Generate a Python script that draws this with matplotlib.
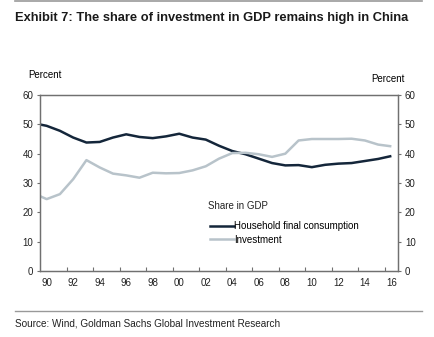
import matplotlib
matplotlib.use("Agg")
import matplotlib.pyplot as plt
from matplotlib.lines import Line2D
from matplotlib.ticker import FixedLocator, NullFormatter

# Annual shares of GDP (percent)
years = list(range(1989, 2017))
household_consumption = [50.4, 49.5, 47.8, 45.5, 43.8, 44.0, 45.5, 46.6, 45.7, 45.3,
                         45.9, 46.8, 45.5, 44.8, 42.7, 40.9, 39.8, 38.3, 36.8, 36.0,
                         36.1, 35.4, 36.2, 36.6, 36.8, 37.5, 38.2, 39.2]
investment = [26.5, 24.5, 26.2, 31.3, 37.8, 35.3, 33.2, 32.6, 31.8, 33.5,
              33.3, 33.4, 34.3, 35.7, 38.3, 40.2, 40.3, 39.8, 38.9, 40.0,
              44.5, 45.0, 45.0, 45.0, 45.1, 44.5, 43.1, 42.5]
label_years = list(range(1990, 2017, 2))
tick_labels = [f"{y % 100:02d}" for y in label_years]
y_ticks = [0, 10, 20, 30, 40, 50, 60]

title = "Exhibit 7: The share of investment in GDP remains high in China"
source = "Source: Wind, Goldman Sachs Global Investment Research"

SANS = ["Liberation Sans", "DejaVu Sans"]
DARK = "#14263a"
LIGHT = "#b8c3ca"
SPINE = "#707070"

fig = plt.figure(figsize=(4.35, 3.37), dpi=100)
ax = fig.add_axes([0.092, 0.196, 0.823, 0.522])

ax.plot(years, household_consumption, color=DARK, lw=1.8, solid_capstyle="butt")
ax.plot(years, investment, color=LIGHT, lw=1.8, solid_capstyle="butt")

ax.set_xlim(1989.5, 2016.5)
ax.set_ylim(0, 60)

# Labels sit on the years, tick marks between them
ax.xaxis.set_major_locator(FixedLocator([y + 1.5 for y in label_years[:-1]]))
ax.xaxis.set_major_formatter(NullFormatter())
ax.xaxis.set_minor_locator(FixedLocator(label_years))
ax.set_xticklabels(tick_labels, minor=True)
ax.tick_params(axis="x", which="major", direction="in", length=3, color=SPINE)
ax.tick_params(axis="x", which="minor", length=0, pad=5, labelsize=7, labelcolor="#222222")
for t in ax.get_xticklabels(minor=True):
    t.set_family(SANS)

ax.set_yticks(y_ticks)
ax.tick_params(axis="y", which="major", direction="out", length=2, color=SPINE,
               labelsize=7, labelcolor="#222222", pad=3)
for t in ax.get_yticklabels():
    t.set_family(SANS)

ax2 = ax.twinx()
ax2.set_ylim(0, 60)
ax2.set_yticks(y_ticks)
ax2.tick_params(axis="y", direction="out", length=2, color=SPINE,
                labelsize=7, labelcolor="#222222", pad=3)
for t in ax2.get_yticklabels():
    t.set_family(SANS)

for a in (ax, ax2):
    for s in a.spines.values():
        s.set_color(SPINE)
        s.set_linewidth(0.9)

# Key: heading plus two entries
ax.text(0.469, 0.369, "Share in GDP", transform=ax.transAxes, fontsize=7,
        family=SANS, ha="left", va="center", color="#222222")
handles = [Line2D([], [], color=DARK, lw=1.8), Line2D([], [], color=LIGHT, lw=1.8)]
leg = ax.legend(handles, ["Household final consumption", "Investment"],
                loc="upper left", bbox_to_anchor=(0.476, 0.282),
                frameon=False, handlelength=2.4, handletextpad=0.05,
                borderaxespad=0, borderpad=0, labelspacing=0.35,
                prop={"family": SANS, "size": 7})

fig.text(0.064, 0.777, "Percent", fontsize=7, family=SANS, ha="left", va="center")
fig.text(0.853, 0.766, "Percent", fontsize=7, family=SANS, ha="left", va="center")

title_txt = fig.text(0.035, 0.948, title, fontsize=10, fontweight="bold", family=SANS,
                     ha="left", va="center", color="#1a1a1a")
source_txt = fig.text(0.035, 0.039, source, fontsize=8, family=SANS,
                      ha="left", va="center", color="#222222")

# Size the heading and the source line to their available widths
fig.canvas.draw()
for txt, width_px in ((title_txt, 396), (source_txt, 268)):
    w = txt.get_window_extent().width
    txt.set_fontsize(txt.get_fontsize() * width_px / w)

fig.add_artist(Line2D([0.035, 0.970], [0.998, 0.998], color="#999999", lw=1.2))
fig.add_artist(Line2D([0.035, 0.970], [0.077, 0.077], color="#999999", lw=1.0))

fig.savefig("out.png", dpi=100)
